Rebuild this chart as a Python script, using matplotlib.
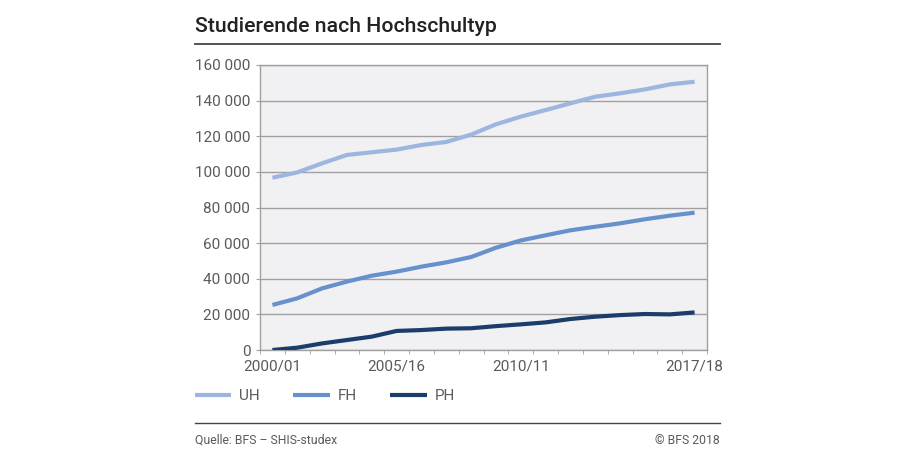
import matplotlib
matplotlib.use("Agg")
import matplotlib.pyplot as plt
from matplotlib.ticker import FuncFormatter, MultipleLocator
import numpy as np

years = ["2000/01", "2001/02", "2002/03", "2003/04", "2004/05", "2005/16", "2006/07",
         "2007/08", "2008/09", "2009/10", "2010/11", "2011/12", "2012/13", "2013/14",
         "2014/15", "2015/16", "2016/17", "2017/18"]
uh = [96700, 99700, 104800, 109500, 111000, 112500, 115100, 116800, 120900, 126700,
      131000, 134700, 138500, 142200, 144100, 146300, 149100, 150600]
fh = [25300, 29000, 34600, 38400, 41700, 44000, 46800, 49200, 52200, 57400,
      61500, 64400, 67200, 69200, 71100, 73400, 75400, 77100]
ph = [0, 1300, 3700, 5600, 7500, 10700, 11200, 12000, 12200, 13400,
      14400, 15500, 17400, 18700, 19600, 20200, 20000, 21100]
series_names = ["UH", "FH", "PH"]
colors = ["#9DB6E0", "#6791CD", "#1B3D6C"]
shown_labels = {0: "2000/01", 5: "2005/16", 10: "2010/11", 17: "2017/18"}

plt.rcParams['font.family'] = ['Roboto', 'DejaVu Sans']

fig = plt.figure(figsize=(9, 4.5), dpi=100)
fig.patch.set_facecolor("white")
ax = fig.add_axes([260/900, 1-350/450, 447/900, 285/450])
ax.set_facecolor("#F1F1F3")

x = np.arange(len(years))
for vals, name, c in zip([uh, fh, ph], series_names, colors):
    ax.plot(x, vals, color=c, lw=3.0, solid_capstyle="butt", solid_joinstyle="round", label=name, zorder=3)

ax.set_xlim(-0.5, len(years) - 0.5)
ax.set_ylim(0, 160000)
ax.yaxis.set_major_locator(MultipleLocator(20000))
ax.yaxis.set_major_formatter(FuncFormatter(lambda v, p: f"{int(v):,}".replace(",", " ")))
ax.grid(axis="y", color="#A0A0A0", lw=1, zorder=1)
ax.set_axisbelow(True)

ax.set_xticks([i for i in shown_labels])
ax.set_xticklabels([shown_labels[i] for i in shown_labels])
ax.set_xticks(np.arange(-0.5, len(years), 1), minor=True)
ax.tick_params(axis="x", which="major", length=0, pad=7, labelsize=11, labelcolor="#5A5A5A")
ax.tick_params(axis="x", which="minor", length=3, color="#A0A0A0", direction="out")
ax.tick_params(axis="y", length=3, color="#A0A0A0", labelsize=11, labelcolor="#5A5A5A", pad=4)
for s in ax.spines.values():
    s.set_color("#A0A0A0")
    s.set_linewidth(1)

# title and rules
fig.text(195/900, 1-27/450, "Studierende nach Hochschultyp", fontsize=15.3, fontweight="medium",
         color="#222222", va="center", ha="left")
fig.add_artist(plt.Line2D([195/900, 720/900], [1-44/450, 1-44/450], color="#444444", lw=1.3))
fig.add_artist(plt.Line2D([195/900, 720/900], [1-423/450, 1-423/450], color="#444444", lw=1.0))
fig.text(195/900, 1-440/450, "Quelle: BFS – SHIS-studex", fontsize=8.8,
         color="#5A5A5A", va="center", ha="left")
fig.text(720/900, 1-440/450, "© BFS 2018", fontsize=8.8,
         color="#5A5A5A", va="center", ha="right")

# legend
handles, labels = ax.get_legend_handles_labels()
leg = fig.legend(handles, labels, loc="center left", bbox_to_anchor=(181/900, 1-396/450), ncol=3,
                 frameon=False, handlelength=2.4, handletextpad=0.5, columnspacing=2.2,
                 prop={"size": 11})
for t in leg.get_texts():
    t.set_color("#5A5A5A")

fig.savefig("out.png", dpi=100)
